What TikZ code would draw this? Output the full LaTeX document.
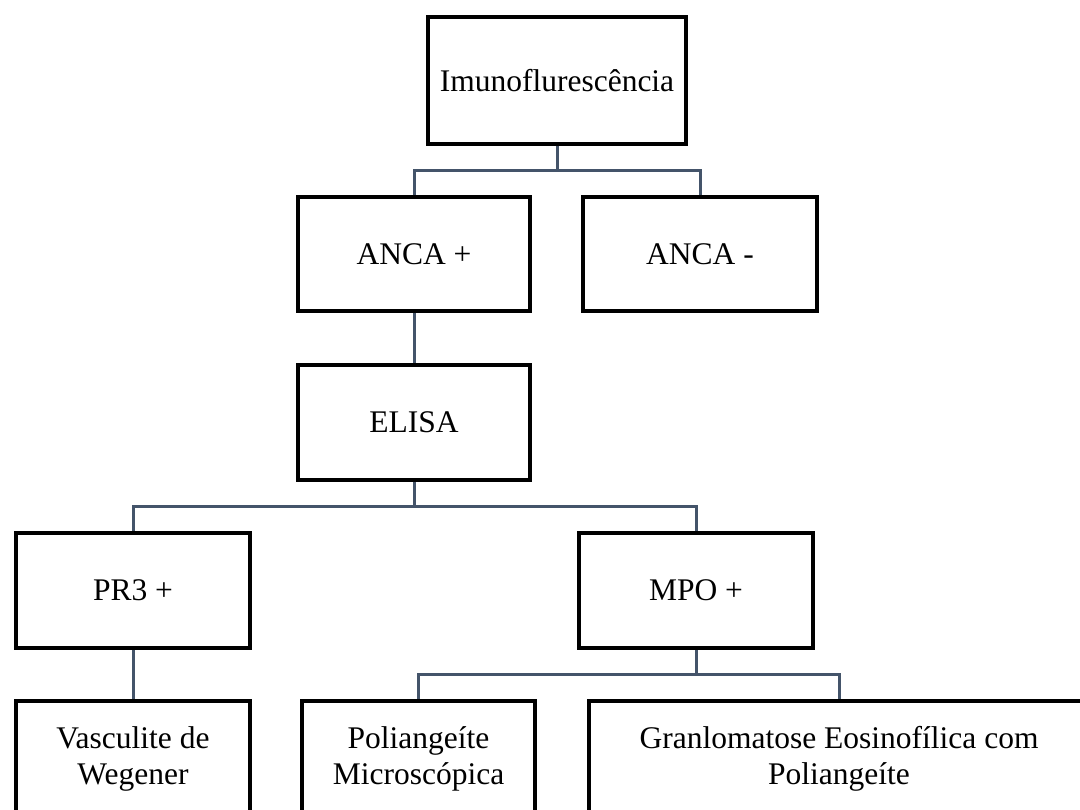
\documentclass[tikz,border=0pt]{standalone}
\usepackage{fontspec}
\setmainfont{Liberation Serif}
\definecolor{conn}{HTML}{44546A}
\begin{document}
\begin{tikzpicture}[x=1pt,y=-1pt,
  box/.style={draw=black, line width=4pt, rectangle, inner sep=0pt, align=center,
    font=\fontsize{31.5}{36}\selectfont},
  link/.style={draw=conn, line width=3pt}]
\useasboundingbox (0,0) rectangle (1080,810);
\clip (0,0) rectangle (1080,810);
\node[box, minimum width=258, minimum height=127] (imuno) at (557,80.5) {Imunoflurescência};
\node[box, minimum width=232, minimum height=114] (ancap) at (414,254) {ANCA +};
\node[box, minimum width=234, minimum height=114] (ancan) at (700,254) {ANCA -};
\node[box, minimum width=232, minimum height=115] (elisa) at (414,422.5) {ELISA};
\node[box, minimum width=234, minimum height=115] (pr3) at (133,590.5) {PR3 +};
\node[box, minimum width=234, minimum height=115] (mpo) at (696,590.5) {MPO +};
\node[box, minimum width=234, minimum height=115] (vasc) at (133,758.5) {Vasculite de\\Wegener};
\node[box, minimum width=233, minimum height=115] (poli) at (418.5,758.5) {Poliangeíte\\Microscópica};
\node[box, minimum width=500, minimum height=115] (gran) at (839,758.5) {Granlomatose Eosinofílica com\\Poliangeíte};
\coordinate (j1) at (557,171);
\coordinate (j2) at (414,506);
\coordinate (j3) at (696,674);
\begin{scope}[on background layer/.try]
\draw[link] (imuno.south) -- (j1) -| (ancap.north);
\draw[link] (j1) -| (ancan.north);
\draw[link] (ancap.south) -- (elisa.north);
\draw[link] (elisa.south) -- (j2) -| (pr3.north);
\draw[link] (j2) -| (mpo.north);
\draw[link] (pr3.south) -- (vasc.north);
\draw[link] (mpo.south) -- (j3) -| (poli.north);
\draw[link] (j3) -| (gran.north);
\end{scope}
\end{tikzpicture}
\end{document}
